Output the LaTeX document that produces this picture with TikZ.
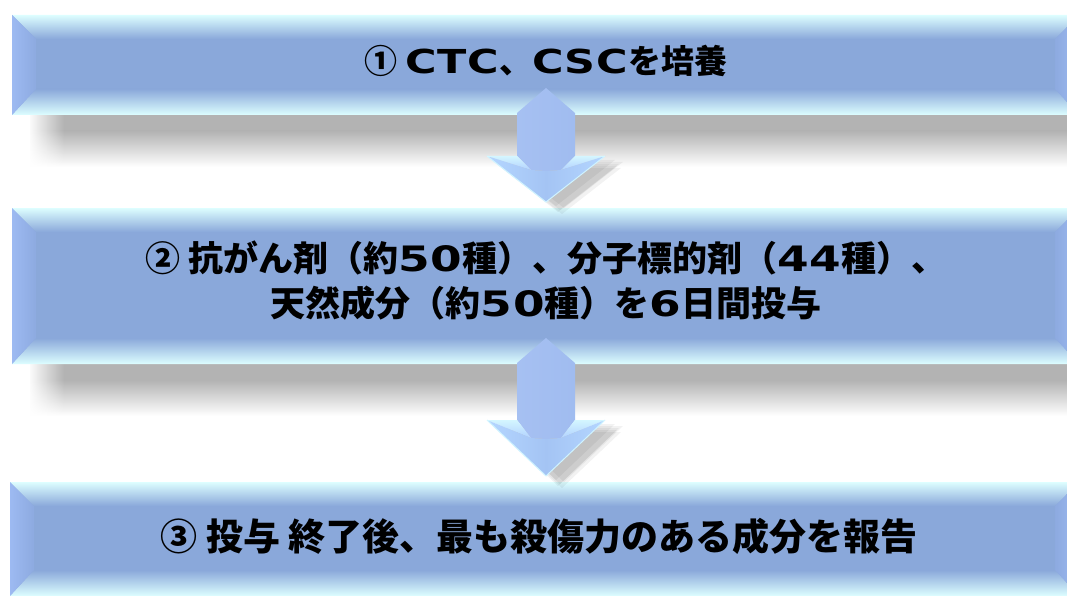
\documentclass[tikz,border=0pt]{standalone}
\usepackage{fontspec}
\setmainfont{Noto Sans CJK JP}
\newfontfamily\latnfont{DejaVu Sans}[FakeStretch=1.3,LetterSpace=2]
\newcommand\lt[1]{{\latnfont #1}}
\usetikzlibrary{fadings}
\definecolor{boxmid}{HTML}{8AA8DA}
\definecolor{bevlight}{HTML}{DDFEFF}
\definecolor{bevmid}{HTML}{A6C6FA}
\definecolor{sideout}{HTML}{9DBAF2}
\definecolor{sidein}{HTML}{8DAAE0}
\definecolor{shgray}{HTML}{B3B3B3}
\definecolor{shaftL}{HTML}{A6C0F2}
\definecolor{shaftM}{HTML}{8EAADE}
\definecolor{shaftR}{HTML}{A0BCF0}
\definecolor{wingT}{HTML}{D4F6FF}
\definecolor{wingB}{HTML}{B2D2FF}
\definecolor{headA}{HTML}{B4D6FF}
\definecolor{headB}{HTML}{A4C4F4}
\definecolor{headedge}{HTML}{CFF3FF}
\tikzfading[name=fadeR, left color=transparent!0, right color=transparent!100]
\tikzset{
  txt/.style={inner sep=0pt, text=black, font=\bfseries\fontsize{35}{45}\selectfont},
  txtsmall/.style={txt, font=\bfseries\fontsize{33}{45}\selectfont},
  txtbig/.style={txt, font=\bfseries\fontsize{37}{45}\selectfont},
}
% x0, y0, x1, y1
\newcommand\bevelbox[4]{%
  \fill[boxmid] (#1,#2) rectangle (#3,#4);
  \shade[top color=bevlight, middle color=bevmid, bottom color=boxmid]
    (#1,#2) -- (#3,#2) -- ({#3-24},{#2+24}) -- ({#1+24},{#2+24}) -- cycle;
  \shade[top color=boxmid, middle color=bevmid, bottom color=bevlight]
    ({#1+24},{#4-26}) -- ({#3-24},{#4-26}) -- (#3,#4) -- (#1,#4) -- cycle;
  \shade[left color=sideout, right color=sidein]
    (#1,#2) -- ({#1+24},{#2+24}) -- ({#1+24},{#4-26}) -- (#1,#4) -- cycle;
  \shade[left color=sidein, right color=sideout]
    (#3,#2) -- ({#3-24},{#2+24}) -- ({#3-24},{#4-26}) -- (#3,#4) -- cycle;
}
% shadow below a box: bottom y
\newcommand\boxshadow[1]{%
  \fill[shgray] (30,#1) rectangle (1067,{#1+16});
  \shade[top color=shgray, bottom color=white] (30,{#1+16}) rectangle (1067,{#1+52});
  \fill[white, path fading=fadeR] (28,#1) rectangle (64,{#1+60});
}
% top y, shaft top corner y, wing y, inner y, tip y
\newcommand\bevarrow[5]{%
  \foreach \dx/\dy in {10/4,14/8,18/6,16/12,12/10}{
    \fill[black, opacity=0.05] ({487+\dx},{#3+\dy}) -- ({605+\dx},{#3+\dy}) -- ({546+\dx},{#5+\dy}) -- cycle;
  }
  \shade[left color=shaftL, middle color=shaftM, right color=shaftR]
    (517,#2) -- (546,#1) -- (575,#2) -- (575,#3) -- (561,#4) -- (546,{#4+1}) -- (531,#4) -- (517,#3) -- cycle;
  \shade[top color=wingT, bottom color=wingB] (487,#3) -- (517,#3) -- (531,#4) -- cycle;
  \shade[top color=wingT, bottom color=wingB] (605,#3) -- (575,#3) -- (561,#4) -- cycle;
  \shade[left color=headA, right color=headB] (487,#3) -- (531,#4) -- (546,{#4+1}) -- (546,#5) -- cycle;
  \shade[left color=headB, right color=headA] (605,#3) -- (561,#4) -- (546,{#4+1}) -- (546,#5) -- cycle;
  \draw[headedge, line width=1pt, line join=round] (487,#3) -- (546,#5) -- (605,#3);
  \draw[wingT, line width=0.8pt] (487,#3) -- (517,#3) (575,#3) -- (605,#3);
}
\begin{document}
\begin{tikzpicture}[x=1pt,y=-1pt]
\useasboundingbox (0,0) rectangle (1067,596);
\clip (0,0) rectangle (1067,596);
\fill[white] (0,0) rectangle (1067,596);
% shadows
\boxshadow{115}
\boxshadow{364}
% boxes
\bevelbox{12}{15}{1079}{115}
\bevelbox{12}{208}{1079}{364}
\bevelbox{10}{482}{1079}{596}
% arrows
\bevarrow{88}{113}{156}{170}{202}
\bevarrow{338}{363}{420}{438}{476}
% texts
\node[txtsmall, anchor=base] (t1) at (546,74) {① \lt{CTC}、\lt{CSC}を培養};
\node[txt, anchor=base] (t2a) at (546,271) {② 抗がん剤（約\lt{50}種）、分子標的剤（\lt{44}種）、};
\node[txt, anchor=base] (t2b) at (546,316) {天然成分（約\lt{50}種）を\lt{6}日間投与};
\node[txtbig, anchor=base] (t3) at (539,550) {③ 投与 終了後、最も殺傷力のある成分を報告};
\end{tikzpicture}
\end{document}
